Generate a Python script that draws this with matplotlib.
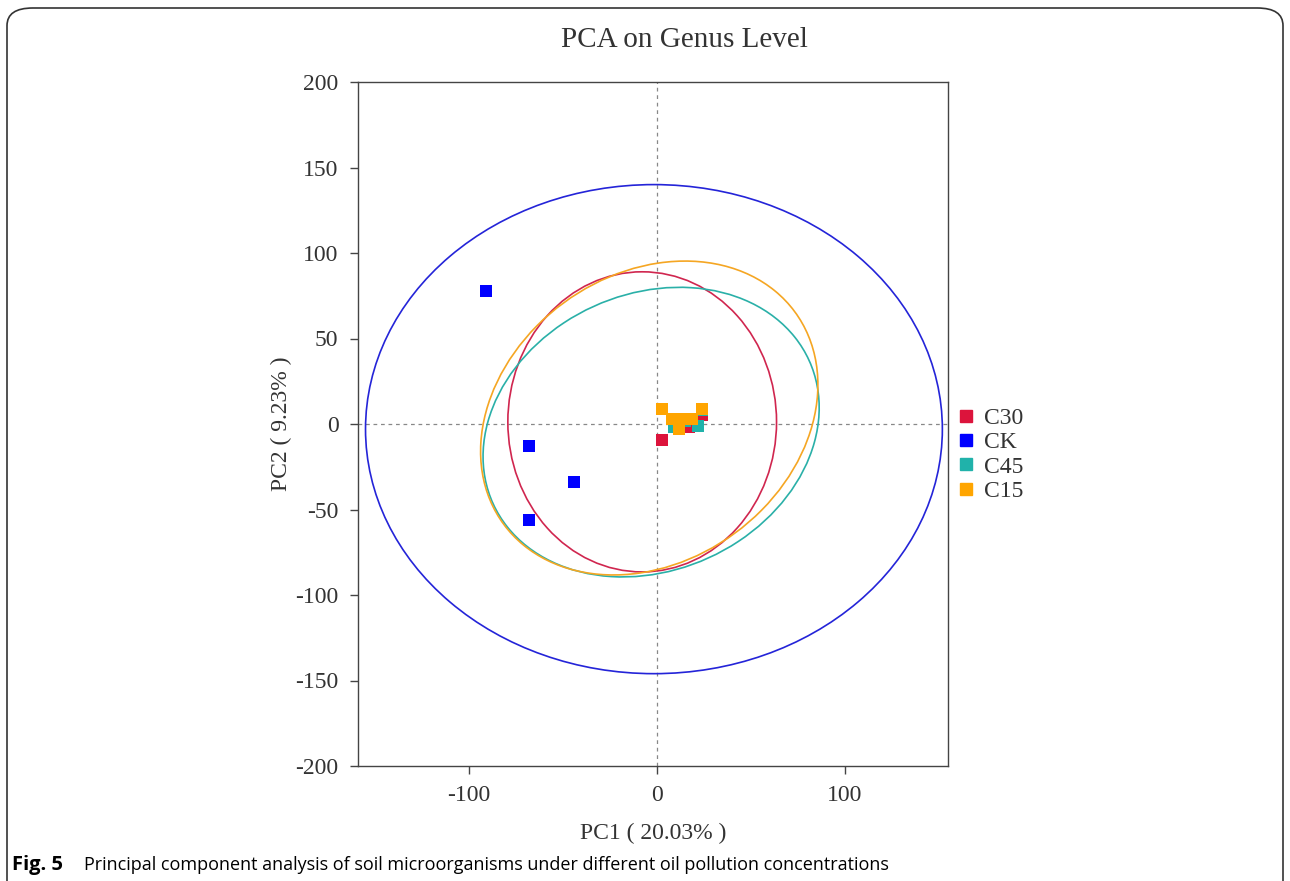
import matplotlib
matplotlib.use("Agg")
import matplotlib.pyplot as plt
from matplotlib.patches import Ellipse, FancyBboxPatch
from matplotlib.lines import Line2D

plt.rcParams["axes.unicode_minus"] = False

groups = ["C30", "CK", "C45", "C15"]
colors = ["#DC143C", "#0000FF", "#20B2AA", "#FFA500"]
ell_colors = ["#D0264F", "#2424D8", "#2AB0A8", "#F5A623"]

pc1 = {
    "C30": [3, 24, 17, 11, 14],
    "CK": [-91, -68, -44, -68],
    "C45": [22, 9, 24, 15],
    "C15": [3, 24, 8, 13, 19, 12],
}
pc2 = {
    "C30": [-9.5, 5, -2, 3, 0],
    "CK": [78, -13, -34, -56],
    "C45": [-1, -2, 8, 2],
    "C15": [9, 9, 3, 3, 3, -3],
}

# confidence ellipses: centre x, centre y, width, height, angle
ell_cx = [-7.75, -1.5, -3, -4]
ell_cy = [1.25, -3, -4.75, 3.5]
ell_w = [143, 307, 189, 200]
ell_h = [175.5, 286, 158, 161]
ell_ang = [0, 0, 36, 48]

x_ticks = [-100, 0, 100]
y_ticks = [-200, -150, -100, -50, 0, 50, 100, 150, 200]

serif = ["Liberation Serif", "DejaVu Serif"]
txt_col = "#333333"

fig = plt.figure(figsize=(12.9, 8.81), dpi=100)

# rounded frame around the figure panel
frame = FancyBboxPatch((7 / 1290, -0.05), 1276 / 1290, 1.05 - 8 / 881,
                       boxstyle="round,pad=0,rounding_size=0.02",
                       transform=fig.transFigure, fill=False,
                       edgecolor="#333333", linewidth=1.2)
fig.patches.append(frame)

ax = fig.add_axes([358 / 1290, 1 - 766 / 881, 590 / 1290, 684 / 881])

for g, c in zip(groups, colors):
    ax.scatter(pc1[g], pc2[g], marker="s", s=80, color=c, linewidths=0, zorder=3)

for c, cx, cy, w, h, a in zip(ell_colors, ell_cx, ell_cy, ell_w, ell_h, ell_ang):
    ax.add_patch(Ellipse((cx, cy), w, h, angle=a, fill=False,
                         edgecolor=c, linewidth=1.2, zorder=2))

ax.axhline(0, color="#888888", linestyle=(0, (3, 3)), linewidth=0.9, zorder=1)
ax.axvline(0, color="#888888", linestyle=(0, (3, 3)), linewidth=0.9, zorder=1)

ax.set_xlim(-159, 155)
ax.set_ylim(-200, 200)
ax.set_xticks(x_ticks)
ax.set_yticks(y_ticks)
ax.tick_params(direction="out", length=6, width=1, colors="#444444",
               labelcolor=txt_col, labelsize=17, pad=8)
for lab in ax.get_xticklabels() + ax.get_yticklabels():
    lab.set_family(serif)
for sp in ax.spines.values():
    sp.set_color("#444444")
    sp.set_linewidth(1)

ax.set_xlabel("PC1 ( 20.03% )", family=serif, fontsize=17, color=txt_col, labelpad=12)
ax.set_ylabel("PC2 ( 9.23% )", family=serif, fontsize=17, color=txt_col, labelpad=2)
fig.text(684 / 1290, 1 - 40 / 881, "PCA on Genus Level", family=serif, fontsize=21,
         color=txt_col, ha="center", va="center")

handles = [Line2D([], [], marker="s", linestyle="", color=c, markersize=8, label=g)
           for g, c in zip(groups, colors)]
leg = ax.legend(handles=handles, loc="center left", bbox_to_anchor=(0.965, 0.455),
                frameon=False, handletextpad=0.0, handlelength=1.5, labelspacing=0.12,
                prop={"family": serif, "size": 17})
for t in leg.get_texts():
    t.set_color(txt_col)

fig.text(12 / 1290, 1 - 865 / 881, "Fig. 5", family="Open Sans", fontweight="bold",
         fontsize=14.5, va="center", ha="left")
fig.text(84 / 1290, 1 - 865 / 881,
         "Principal component analysis of soil microorganisms under different oil pollution concentrations",
         family="Open Sans", fontsize=13.0, va="center", ha="left")

fig.savefig("out.png", dpi=100)
